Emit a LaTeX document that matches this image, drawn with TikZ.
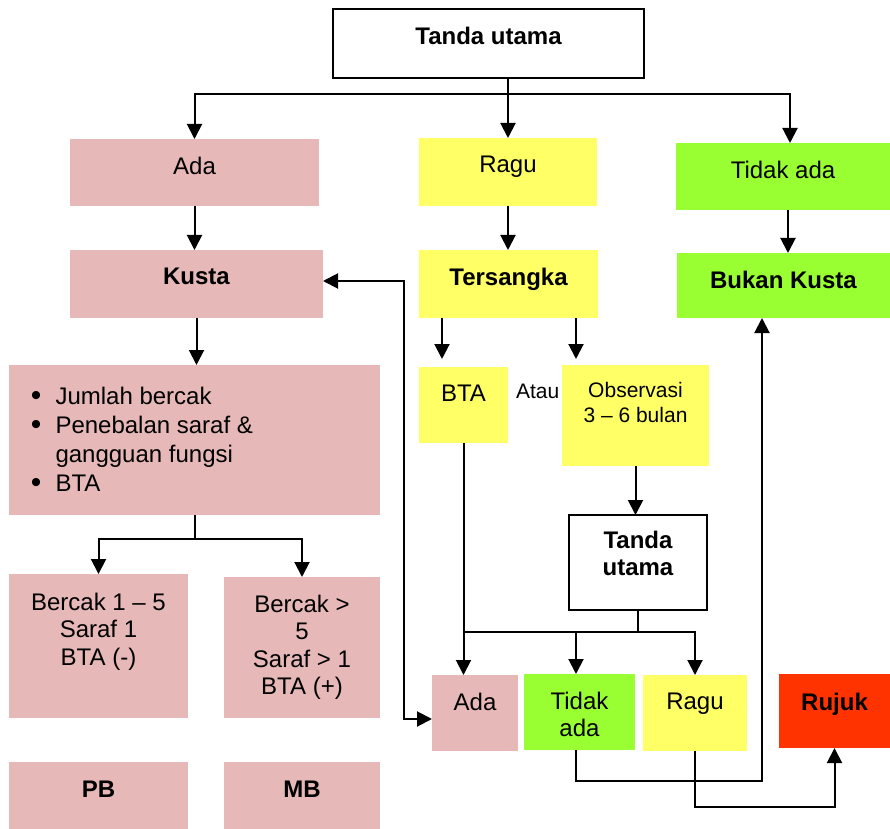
\documentclass[tikz,border=0pt]{standalone}
\usepackage{fontspec}
\setmainfont{Liberation Sans}
\usetikzlibrary{arrows.meta}
\definecolor{kpink}{RGB}{230,184,183}
\definecolor{kyellow}{RGB}{255,255,102}
\definecolor{kgreen}{RGB}{153,255,51}
\definecolor{kred}{RGB}{255,51,0}
\newcommand{\kbullet}{\raisebox{-0.6pt}{\fontsize{15}{15}\selectfont\textbullet}}
\tikzset{
  box/.style={inner sep=0pt, outer sep=0pt},
  linebox/.style={box, draw, fill=white},
  pinkbox/.style={box, fill=kpink},
  yellowbox/.style={box, fill=kyellow},
  greenbox/.style={box, fill=kgreen},
  redbox/.style={box, fill=kred},
  txt/.style={anchor=north, inner sep=0pt, align=center, yshift=-8.5pt},
  boldtxt/.style={txt, font=\fontsize{12}{13.75}\selectfont\bfseries},
  smalltxt/.style={txt, yshift=0.5pt, font=\fontsize{10.5}{12.5}\selectfont}
}
\begin{document}
\begin{tikzpicture}[x=0.5pt, y=-0.5pt, line width=1pt,
  >={Triangle[width=7.5pt, length=7.5pt]},
  font=\fontsize{12}{13.75}\selectfont]
\useasboundingbox (0,0) rectangle (890,829);
%
\draw(488.5,43.5) node[linebox, minimum width=155.5pt, minimum height=34.5pt](tanda){};
\draw(tanda.north) node[boldtxt](tandatext){Tanda utama};
%
\draw(194.5,172.5) node[pinkbox, minimum width=124.5pt, minimum height=33.5pt](ada){};
\draw(ada.north) node[txt](adatext){Ada};
\draw(508,172) node[yellowbox, minimum width=89pt, minimum height=34pt](ragu){};
\draw(ragu.north) node[txt](ragutext){Ragu};
\draw(783,176.5) node[greenbox, minimum width=107pt, minimum height=33.5pt](tidak){};
\draw(tidak.north) node[txt](tidaktext){Tidak ada};
%
\draw(196.5,284) node[pinkbox, minimum width=126.5pt, minimum height=34pt](kusta){};
\draw(kusta.north) node[boldtxt](kustatext){Kusta};
\draw(508.5,284) node[yellowbox, minimum width=89.5pt, minimum height=34pt](tersangka){};
\draw(tersangka.north) node[boldtxt](tersangkatext){Tersangka};
\draw(783.5,285.5) node[greenbox, minimum width=106.5pt, minimum height=32.5pt](bukan){};
\draw(bukan.north) node[boldtxt](bukantext){Bukan Kusta};
%
\draw(194.5,440) node[pinkbox, minimum width=185.5pt, minimum height=75pt](kriteria){};
\draw(30,383) node[anchor=north west, inner sep=0pt, font=\fontsize{12}{14.5}\selectfont](kriteriatext){%
  \begin{tabular}{@{}l@{\hspace{7pt}}l@{}}
  \kbullet & Jumlah bercak\\
  \kbullet & Penebalan saraf \&\\
           & gangguan fungsi\\
  \kbullet & BTA
  \end{tabular}};
%
\draw(463.5,405) node[yellowbox, minimum width=44.5pt, minimum height=38pt](bta){};
\draw(bta.north) node[txt](btatext){BTA};
\draw(515,398) node[anchor=base west, inner sep=0pt, font=\fontsize{10.5}{12.5}\selectfont](atau){Atau};
\draw(635.5,415.5) node[yellowbox, minimum width=73.5pt, minimum height=50.5pt](obs){};
\draw(obs.north) node[smalltxt](obstext){Observasi\\3 -- 6 bulan};
\draw(638,562.5) node[linebox, minimum width=69pt, minimum height=47.5pt](tanda2){};
\draw(tanda2.north) node[boldtxt, yshift=1pt](tanda2text){Tanda\\utama};
%
\draw(98.5,646) node[pinkbox, minimum width=89.5pt, minimum height=72pt](pbcrit){};
\draw(pbcrit.north) node[txt, yshift=-0.5pt](pbcrittext){Bercak 1 -- 5\\Saraf 1\\BTA (-)};
\draw(302,647.5) node[pinkbox, minimum width=78pt, minimum height=70.5pt](mbcrit){};
\draw(mbcrit.north) node[txt](mbcrittext){Bercak >\\5\\Saraf > 1\\BTA (+)};
\draw(98.5,795.5) node[pinkbox, minimum width=89.5pt, minimum height=33.5pt](pb){};
\draw(pb.north) node[boldtxt, yshift=-0.5pt](pbtext){PB};
\draw(302,795.5) node[pinkbox, minimum width=78pt, minimum height=33.5pt](mb){};
\draw(mb.north) node[boldtxt, yshift=-0.5pt](mbtext){MB};
%
\draw(475,713) node[pinkbox, minimum width=43pt, minimum height=38pt](ada2){};
\draw(ada2.north) node[txt](ada2text){Ada};
\draw(579.5,712) node[greenbox, minimum width=55.5pt, minimum height=38pt](tidak2){};
\draw(tidak2.north) node[txt](tidak2text){Tidak\\ada};
\draw(695,713) node[yellowbox, minimum width=52pt, minimum height=38pt](ragu2){};
\draw(ragu2.north) node[txt](ragu2text){Ragu};
\draw(834.5,711) node[redbox, minimum width=55.5pt, minimum height=37pt](rujuk){};
\draw(rujuk.north) node[boldtxt, yshift=-0.5pt](rujuktext){Rujuk};
%
% first split
\coordinate (fork1) at (508,94);
\draw[->] (ragu.north |- tanda.south) -- (ragu.north);
\draw[->] (fork1) -| (ada.north);
\draw[->] (fork1) -| ([xshift=3.5pt]tidak.north);
\draw[->] (ada.south) -- (ada.south |- kusta.north);
\draw[->] (ragu.south) -- (ragu.south |- tersangka.north);
\draw[->] ([xshift=2.5pt]tidak.south) -- ([xshift=2.5pt]tidak.south |- bukan.north);
%
% Kusta: PB or MB
\draw[->] (kusta.south) -- (kusta.south |- kriteria.north);
\draw (kriteria.south) -- ++(0,24) coordinate(fork2);
\draw[->] (fork2) -| (pbcrit.north);
\draw[->] (fork2) -| (mbcrit.north);
%
% Tersangka: BTA or observation
\draw[->] ([xshift=-33.25pt]tersangka.south) -- +(0,41);
\draw[->] ([xshift=33.75pt]tersangka.south) -- +(0,41);
\draw[->] (obs.south) -- (obs.south |- tanda2.north);
\draw (tanda2.south) -- ++(0,22) coordinate(fork3);
\draw (bta.south |- fork3) -- (fork3);
\draw[->] (bta.south) -- (bta.south |- ada2.north);
\draw[->] (fork3) -| ([xshift=-1.75pt]tidak2.north);
\draw[->] (fork3) -| (ragu2.north);
%
% outcomes
\draw[<->] ([yshift=1.5pt]kusta.east) -- ++(81,0) |- ([yshift=-3pt]ada2.west);
\draw[->] ([xshift=-1.75pt]tidak2.south) -- ++(0,31) -| ([xshift=-10.75pt]bukan.south);
\draw[->] (ragu2.south) -- ++(0,56) -| (rujuk.south);
\end{tikzpicture}
\end{document}
